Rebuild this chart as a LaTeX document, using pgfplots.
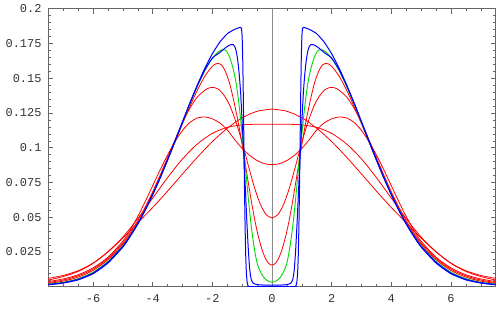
\documentclass[border=0pt]{standalone}
\usepackage{pgfplots}
\pgfplotsset{compat=1.18}
\usepackage{pgfplotstable}
\usepackage{fontspec}
\setmainfont{Liberation Mono}

\pgfplotstableread{
x y
0 0.1278
0.5 0.1262
1.0 0.1215
1.5 0.1140
2.0 0.1044
2.5 0.0932
3.0 0.0811
3.5 0.0688
4.0 0.0570
4.5 0.0460
5.0 0.0350
5.5 0.0250
6.0 0.0170
6.5 0.0115
7.0 0.0081
7.5 0.0060
}\tA

\pgfplotstableread{
x y
0 0.1169
0.5 0.1169
1.0 0.1164
1.5 0.1146
2.0 0.1103
2.5 0.1027
3.0 0.0919
3.5 0.0785
4.0 0.0637
4.5 0.0490
5.0 0.0357
5.5 0.0252
6.0 0.0168
6.5 0.0110
7.0 0.0073
7.5 0.0048
}\tB

\pgfplotstableread{
x y
0 0.0878
0.25 0.0885
0.5 0.0908
0.75 0.0945
1.0 0.0995
1.25 0.1058
1.5 0.1128
1.75 0.1178
2.0 0.1208
2.25 0.1221
2.5 0.1214
2.75 0.1182
3.0 0.1124
3.25 0.1044
3.5 0.0948
3.75 0.0840
4.0 0.0727
4.25 0.0613
4.5 0.0505
4.75 0.0410
5.0 0.0328
5.5 0.0212
6.0 0.0136
6.5 0.0086
7.0 0.0056
7.5 0.0037
}\tC

\pgfplotstableread{
x y
0 0.0494
0.2 0.0520
0.4 0.0598
0.6 0.0722
0.8 0.0877
1.0 0.1038
1.2 0.1180
1.4 0.1295
1.6 0.1375
1.8 0.1421
2.0 0.1434
2.2 0.1421
2.5 0.1365
2.75 0.1285
3.0 0.1180
3.25 0.1058
3.5 0.0930
3.75 0.0803
4.0 0.0683
4.25 0.0573
4.5 0.0475
4.75 0.0390
5.0 0.0315
5.5 0.0204
6.0 0.0127
6.5 0.0078
7.0 0.0048
7.5 0.0030
}\tD

\pgfplotstableread{
x y
0 0.0155
0.1 0.0165
0.2 0.0195
0.3 0.0245
0.4 0.0315
0.5 0.0400
0.6 0.0505
0.7 0.0625
0.8 0.0755
0.9 0.0890
1.0 0.1020
1.1 0.1145
1.2 0.1255
1.3 0.1355
1.4 0.1445
1.5 0.1515
1.6 0.1565
1.7 0.1597
1.8 0.1607
1.9 0.1602
2.0 0.1586
2.25 0.1515
2.5 0.1415
2.75 0.1298
3.0 0.1172
3.25 0.1042
3.5 0.0912
3.75 0.0787
4.0 0.0669
4.25 0.0560
4.5 0.0462
4.75 0.0378
5.0 0.0305
5.5 0.0195
6.0 0.0117
6.5 0.0069
7.0 0.0040
7.5 0.0024
}\tE

\pgfplotstableread{
x y
0 0.0033
0.1 0.0036
0.2 0.0050
0.3 0.0075
0.4 0.0112
0.5 0.0170
0.6 0.0285
0.7 0.0445
0.8 0.0650
0.9 0.0880
1.0 0.1095
1.1 0.1300
1.2 0.1460
1.3 0.1565
1.4 0.1640
1.5 0.1688
1.6 0.1705
1.7 0.1703
1.8 0.1690
2.0 0.1643
2.25 0.1555
2.5 0.1443
2.75 0.1316
3.0 0.1181
3.25 0.1045
3.5 0.0912
3.75 0.0783
4.0 0.0663
4.25 0.0553
4.5 0.0455
4.75 0.0370
5.0 0.0295
5.5 0.0182
6.0 0.0104
6.5 0.0058
7.0 0.0032
7.5 0.0019
}\tG

\pgfplotstableread{
x y
0 0.0012
0.3 0.0012
0.45 0.0014
0.55 0.0018
0.6 0.0022
0.65 0.0030
0.7 0.0055
0.75 0.0130
0.8 0.0290
0.85 0.0500
0.9 0.0740
0.95 0.0970
1.0 0.1180
1.05 0.1390
1.1 0.1530
1.15 0.1630
1.2 0.1695
1.25 0.1728
1.3 0.1741
1.4 0.1740
1.5 0.1728
1.6 0.1712
1.75 0.1685
2.0 0.1645
2.25 0.1560
2.5 0.1448
2.75 0.1322
3.0 0.1186
3.25 0.1049
3.5 0.0914
3.75 0.0784
4.0 0.0663
4.25 0.0552
4.5 0.0453
4.75 0.0367
5.0 0.0290
5.5 0.0176
6.0 0.0098
6.5 0.0053
7.0 0.0029
7.5 0.0016
}\tBb

\pgfplotstableread{
x y
0 0
0.76 0
0.78 0.0002
0.8 0.0006
0.82 0.0018
0.84 0.0045
0.86 0.0105
0.88 0.0220
0.90 0.0410
0.92 0.0680
0.94 0.1000
0.96 0.1340
0.98 0.1620
1.00 0.1790
1.02 0.1855
1.05 0.1866
1.1 0.1864
1.2 0.1856
1.3 0.1846
1.5 0.1820
1.75 0.1760
2.0 0.1676
2.25 0.1572
2.5 0.1453
2.75 0.1323
3.0 0.1186
3.25 0.1048
3.5 0.0913
3.75 0.0783
4.0 0.0662
4.25 0.0551
4.5 0.0450
4.75 0.0363
5.0 0.0285
5.5 0.0170
6.0 0.0093
6.5 0.0049
7.0 0.0026
7.5 0.0014
}\tBa

\newcommand{\mirr}[2]{%
  \addplot[#1] table[x=x,y=y]{#2};
  \addplot[#1] table[x expr=-\thisrow{x},y=y]{#2};
}

\begin{document}
\begin{tikzpicture}
\begin{axis}[
  scale only axis, width=447.4bp, height=278bp,
  xmin=-7.5, xmax=7.5, ymin=0, ymax=0.2,
  axis line style={black!60, line width=0.6bp},
  tick align=inside,
  xtick={-6,-4,-2,0,2,4,6},
  xticklabels={-6,-4,-2,0,2,4,6},
  minor xtick={-7.5,-7,...,7.5},
  ytick={0.025,0.05,0.075,0.1,0.125,0.15,0.175,0.2},
  yticklabels={0.025,0.05,0.075,0.1,0.125,0.15,0.175,0.2},
  minor ytick={0.005,0.01,...,0.196},
  major tick length=5bp, minor tick length=2.5bp,
  every tick/.style={black!60, line width=0.5bp},
  xticklabel style={font=\fontsize{12}{12}\selectfont, inner sep=0pt, anchor=north, yshift=-8bp, text=black!80},
  yticklabel style={font=\fontsize{12}{12}\selectfont, inner sep=0pt, anchor=east, xshift=-6.6bp, text=black!80},
  clip=true,
]
\addplot[gray!90, line width=0.8bp] coordinates {(0,0) (0,0.2)};
\mirr{red, line width=0.8bp, smooth}{\tA}
\mirr{red, line width=0.8bp, smooth}{\tB}
\mirr{red, line width=0.8bp, smooth}{\tC}
\mirr{red, line width=0.8bp, smooth}{\tD}
\mirr{red, line width=0.8bp, smooth}{\tE}
\mirr{green!85!black, line width=0.9bp, smooth}{\tG}
\mirr{blue, line width=1bp, smooth, tension=0.3}{\tBb}
\mirr{blue, line width=1bp, smooth, tension=0.3}{\tBa}
\end{axis}
\pgfresetboundingbox
\path[use as bounding box] ([shift={(-48.3bp,-21.3bp)}]current axis.south west) rectangle ([shift={(1.3bp,8.7bp)}]current axis.north east);
\end{tikzpicture}
\end{document}
